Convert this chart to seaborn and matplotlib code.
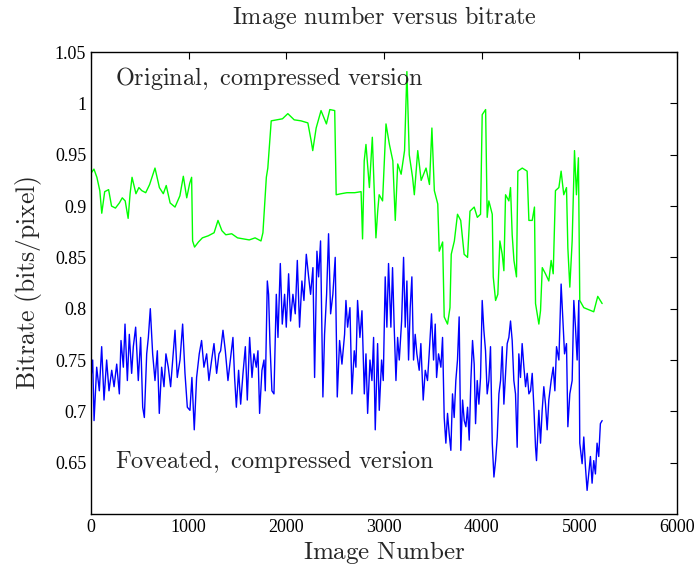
import pandas as pd
import matplotlib
matplotlib.use("Agg")
import matplotlib.pyplot as plt
import seaborn as sns

# Original, compressed version (green)
orig_img = [0, 30, 60, 90, 110, 140, 180, 210, 250, 290, 320, 350, 380, 400, 420, 460, 490, 520, 560, 600,
            655, 700, 740, 770, 810, 860, 910, 945, 980, 1010, 1030, 1040, 1060, 1100, 1140, 1200, 1260, 1300,
            1340, 1380, 1440, 1500, 1560, 1620, 1680, 1740, 1760, 1795, 1810, 1845, 1900, 1960, 2015, 2080,
            2150, 2220, 2255, 2270, 2305, 2355, 2410, 2445, 2495, 2510, 2560, 2620, 2700, 2765, 2780, 2797,
            2815, 2850, 2880, 2917, 2935, 2950, 2985, 3020, 3055, 3090, 3115, 3140, 3175, 3210, 3234, 3258,
            3292, 3310, 3345, 3380, 3430, 3465, 3490, 3515, 3550, 3565, 3600, 3616, 3650, 3675, 3688, 3720,
            3752, 3785, 3820, 3855, 3880, 3923, 3955, 3988, 4005, 4040, 4056, 4073, 4108, 4118, 4142, 4165,
            4186, 4210, 4227, 4244, 4278, 4295, 4312, 4330, 4356, 4370, 4415, 4465, 4483, 4517, 4540, 4551,
            4585, 4602, 4620, 4653, 4687, 4711, 4732, 4755, 4790, 4813, 4840, 4868, 4882, 4902, 4926, 4950,
            4970, 4990, 5004, 5045, 5096, 5147, 5188, 5233]
orig_rate = [0.932, 0.936, 0.928, 0.915, 0.893, 0.914, 0.916, 0.900, 0.898, 0.903, 0.908, 0.905, 0.888, 0.912,
             0.928, 0.912, 0.918, 0.915, 0.913, 0.921, 0.937, 0.918, 0.912, 0.920, 0.903, 0.899, 0.910, 0.929,
             0.908, 0.922, 0.928, 0.866, 0.860, 0.865, 0.869, 0.871, 0.874, 0.886, 0.876, 0.872, 0.873, 0.869,
             0.868, 0.867, 0.869, 0.866, 0.874, 0.928, 0.937, 0.983, 0.984, 0.985, 0.990, 0.984, 0.983, 0.981,
             0.963, 0.954, 0.976, 0.993, 0.980, 0.994, 0.993, 0.911, 0.912, 0.913, 0.913, 0.914, 0.868, 0.944,
             0.960, 0.918, 0.967, 0.869, 0.895, 0.911, 0.905, 0.980, 0.960, 0.944, 0.886, 0.941, 0.931, 0.954,
             1.031, 0.950, 0.928, 0.911, 0.954, 0.925, 0.937, 0.921, 0.976, 0.915, 0.902, 0.856, 0.865, 0.792,
             0.785, 0.801, 0.853, 0.866, 0.892, 0.886, 0.853, 0.850, 0.895, 0.899, 0.889, 0.892, 0.989, 0.994,
             0.889, 0.905, 0.892, 0.831, 0.808, 0.814, 0.866, 0.853, 0.837, 0.911, 0.905, 0.918, 0.872, 0.847,
             0.831, 0.934, 0.937, 0.934, 0.886, 0.886, 0.899, 0.805, 0.785, 0.798, 0.840, 0.834, 0.827, 0.847,
             0.834, 0.915, 0.918, 0.934, 0.911, 0.918, 0.859, 0.821, 0.866, 0.954, 0.911, 0.947, 0.808, 0.801,
             0.799, 0.797, 0.812, 0.805]

# Foveated, compressed version (blue)
fov_img = [0, 17, 31, 58, 85, 109, 133, 160, 184, 212, 236, 263, 290, 307, 331, 348, 372, 392, 416, 433, 457,
           484, 508, 529, 546, 570, 587, 607, 631, 655, 679, 699, 723, 747, 767, 791, 815, 836, 860, 883, 911,
           938, 962, 986, 1013, 1033, 1057, 1081, 1108, 1132, 1156, 1184, 1207, 1235, 1259, 1286, 1310, 1327,
           1351, 1375, 1402, 1426, 1453, 1470, 1488, 1511, 1532, 1556, 1580, 1600, 1624, 1648, 1668, 1692,
           1709, 1726, 1750, 1771, 1784, 1805, 1818, 1832, 1852, 1873, 1897, 1914, 1938, 1958, 1982, 1999,
           2023, 2043, 2067, 2091, 2112, 2135, 2159, 2180, 2204, 2228, 2248, 2272, 2289, 2313, 2330, 2350,
           2374, 2391, 2412, 2432, 2453, 2476, 2500, 2521, 2545, 2569, 2596, 2610, 2627, 2651, 2671, 2695,
           2712, 2729, 2753, 2774, 2798, 2815, 2832, 2856, 2876, 2893, 2910, 2934, 2951, 2975, 2992, 3012,
           3029, 3046, 3070, 3087, 3104, 3122, 3139, 3156, 3180, 3200, 3217, 3234, 3251, 3268, 3285, 3302,
           3319, 3336, 3360, 3377, 3401, 3422, 3445, 3462, 3486, 3507, 3524, 3538, 3558, 3582, 3599, 3616,
           3633, 3650, 3667, 3684, 3701, 3718, 3735, 3752, 3769, 3786, 3804, 3821, 3838, 3855, 3872, 3889,
           3906, 3923, 3937, 3954, 3971, 3988, 4005, 4022, 4039, 4056, 4073, 4090, 4108, 4125, 4142, 4159,
           4176, 4193, 4210, 4227, 4244, 4261, 4278, 4295, 4312, 4329, 4346, 4363, 4380, 4397, 4414, 4432,
           4449, 4466, 4483, 4500, 4517, 4534, 4551, 4561, 4585, 4602, 4619, 4636, 4653, 4670, 4687, 4711,
           4732, 4749, 4766, 4790, 4813, 4830, 4848, 4868, 4882, 4902, 4926, 4943, 4960, 4977, 4994, 5004,
           5028, 5045, 5062, 5079, 5096, 5113, 5130, 5147, 5164, 5181, 5198, 5215, 5233]
fov_rate = [0.733, 0.750, 0.691, 0.743, 0.720, 0.763, 0.711, 0.750, 0.720, 0.740, 0.724, 0.746, 0.717, 0.769,
            0.743, 0.785, 0.730, 0.775, 0.737, 0.763, 0.782, 0.730, 0.772, 0.704, 0.694, 0.756, 0.772, 0.800,
            0.756, 0.730, 0.759, 0.698, 0.743, 0.724, 0.756, 0.743, 0.724, 0.750, 0.779, 0.733, 0.750, 0.785,
            0.737, 0.704, 0.701, 0.733, 0.682, 0.733, 0.756, 0.769, 0.743, 0.756, 0.730, 0.750, 0.766, 0.737,
            0.756, 0.759, 0.779, 0.759, 0.730, 0.750, 0.772, 0.733, 0.704, 0.740, 0.707, 0.737, 0.763, 0.711,
            0.772, 0.733, 0.756, 0.743, 0.759, 0.698, 0.740, 0.750, 0.720, 0.827, 0.814, 0.766, 0.720, 0.717,
            0.814, 0.772, 0.844, 0.785, 0.814, 0.782, 0.834, 0.788, 0.814, 0.795, 0.847, 0.782, 0.827, 0.808,
            0.853, 0.831, 0.814, 0.840, 0.733, 0.856, 0.831, 0.866, 0.714, 0.775, 0.814, 0.873, 0.795, 0.814,
            0.850, 0.714, 0.769, 0.746, 0.775, 0.808, 0.782, 0.801, 0.717, 0.759, 0.743, 0.808, 0.772, 0.798,
            0.717, 0.756, 0.698, 0.750, 0.730, 0.772, 0.682, 0.766, 0.701, 0.750, 0.730, 0.831, 0.782, 0.844,
            0.782, 0.840, 0.782, 0.730, 0.772, 0.750, 0.788, 0.850, 0.782, 0.827, 0.750, 0.801, 0.831, 0.750,
            0.775, 0.756, 0.740, 0.766, 0.711, 0.740, 0.730, 0.756, 0.795, 0.750, 0.785, 0.733, 0.756, 0.743,
            0.772, 0.694, 0.669, 0.698, 0.678, 0.662, 0.717, 0.694, 0.730, 0.750, 0.792, 0.662, 0.711, 0.691,
            0.685, 0.704, 0.672, 0.730, 0.769, 0.746, 0.688, 0.730, 0.707, 0.733, 0.808, 0.779, 0.759, 0.717,
            0.730, 0.763, 0.669, 0.636, 0.652, 0.675, 0.717, 0.730, 0.763, 0.707, 0.737, 0.766, 0.772, 0.788,
            0.769, 0.730, 0.717, 0.665, 0.756, 0.733, 0.766, 0.743, 0.724, 0.737, 0.717, 0.720, 0.737, 0.704,
            0.665, 0.652, 0.701, 0.669, 0.701, 0.724, 0.707, 0.682, 0.711, 0.730, 0.743, 0.720, 0.763, 0.750,
            0.824, 0.792, 0.756, 0.766, 0.685, 0.717, 0.730, 0.808, 0.782, 0.750, 0.808, 0.669, 0.649, 0.675,
            0.646, 0.623, 0.639, 0.656, 0.630, 0.652, 0.639, 0.669, 0.656, 0.688, 0.691]

y_ticks = [0.65, 0.7, 0.75, 0.8, 0.85, 0.9, 0.95, 1.0, 1.05]
y_tick_labels = ["0.65", "0.7", "0.75", "0.8", "0.85", "0.9", "0.95", "1", "1.05"]
x_ticks = [0, 1000, 2000, 3000, 4000, 5000, 6000]

sns.set_style("white")
plt.rcParams["mathtext.fontset"] = "cm"
plt.rcParams["font.family"] = ["Liberation Serif", "DejaVu Serif"]

fig = plt.figure(figsize=(6.98, 5.66), dpi=100)
ax = fig.add_axes([0.1304, 0.0919, 0.8396, 0.8161])

orig_df = pd.DataFrame({"img": orig_img, "rate": orig_rate})
fov_df = pd.DataFrame({"img": fov_img, "rate": fov_rate})
sns.lineplot(data=orig_df, x="img", y="rate", color="#00ff00", linewidth=1.0, estimator=None, sort=False, ax=ax)
sns.lineplot(data=fov_df, x="img", y="rate", color="#0000ff", linewidth=1.0, estimator=None, sort=False, ax=ax)

ax.set_xlim(0, 6000)
ax.set_ylim(0.6, 1.05)
ax.set_xticks(x_ticks)
ax.set_xticklabels([str(t) for t in x_ticks])
ax.set_yticks(y_ticks)
ax.set_yticklabels(y_tick_labels)
ax.tick_params(direction="in", length=5, width=0.8, top=True, right=True, labelsize=13, colors="black")
for s in ax.spines.values():
    s.set_visible(True)
    s.set_color("black")
    s.set_linewidth(1.0)

ax.set_title(r"$\mathrm{Image\ number\ versus\ bitrate}$", fontsize=17.5, pad=20)
ax.set_xlabel(r"$\mathrm{Image\ Number}$", fontsize=18, labelpad=2)
ax.set_ylabel(r"$\mathrm{Bitrate\ (bits/pixel)}$", fontsize=18.5, labelpad=8)

ax.text(245, 1.024, r"$\mathrm{Original,\ compressed\ version}$", fontsize=17.5, va="center", ha="left")
ax.text(245, 0.651, r"$\mathrm{Foveated,\ compressed\ version}$", fontsize=17.5, va="center", ha="left")

fig.savefig("out.png", dpi=100)
